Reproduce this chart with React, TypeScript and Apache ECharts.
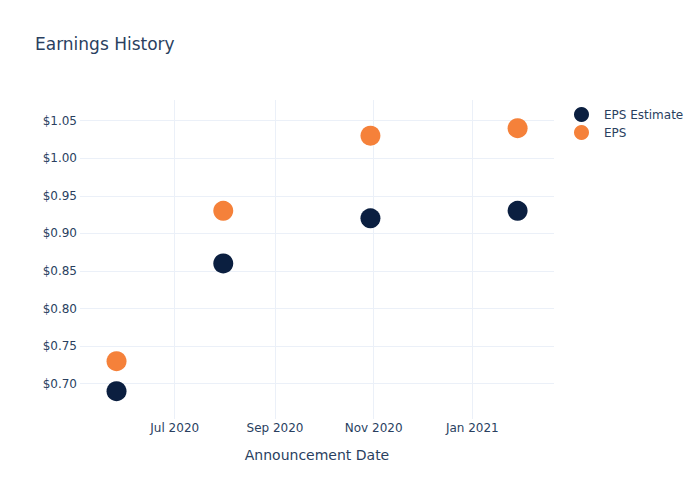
import React, { useEffect, useRef } from "react";
import * as echarts from "echarts";

const dates = ["2020-05-26", "2020-07-31", "2020-10-30", "2021-01-29"];
const epsEstimate = [0.69, 0.86, 0.92, 0.93];
const eps = [0.73, 0.93, 1.03, 1.04];
const xTicks = ["2020-07-01", "2020-09-01", "2020-11-01", "2021-01-01"];
const yTicks = [0.7, 0.75, 0.8, 0.85, 0.9, 0.95, 1.0, 1.05];
const monthNames = ["Jan", "Feb", "Mar", "Apr", "May", "Jun", "Jul", "Aug", "Sep", "Oct", "Nov", "Dec"];

const toTs = (s: string) => {
  const [y, m, d] = s.split("-").map(Number);
  return Date.UTC(y, m - 1, d);
};

const FONT = "DejaVu Sans";
const TXT = "#2a3f5f";
const GRID = "#ebf0f8";

export default function App() {
  const ref = useRef<HTMLDivElement>(null);
  useEffect(() => {
    if (!ref.current) return;
    const chart = echarts.init(ref.current, undefined, { renderer: "svg" });
    chart.setOption({
      animation: false,
      backgroundColor: "#ffffff",
      textStyle: { fontFamily: FONT },
      title: {
        text: "Earnings History",
        left: 35,
        top: 35,
        padding: 0,
        textStyle: { fontFamily: FONT, fontSize: 17, fontWeight: "normal", color: TXT },
      },
      legend: {
        orient: "vertical",
        left: 574,
        top: 107,
        itemWidth: 15,
        itemHeight: 15,
        itemGap: 3,
        padding: 0,
        icon: "circle",
        textStyle: { fontFamily: FONT, fontSize: 12, color: TXT, padding: [0, 0, 0, 10] },
        data: ["EPS Estimate", "EPS"],
      },
      grid: { left: 80, right: 146, top: 100, bottom: 81 },
      xAxis: {
        type: "value",
        min: toTs("2020-05-03") + 10 * 3600000,
        max: toTs("2021-02-20") + 12 * 3600000,
        name: "Announcement Date",
        nameLocation: "middle",
        nameGap: 29,
        nameTextStyle: { fontFamily: FONT, fontSize: 14, color: TXT },
        axisLine: { show: false },
        axisTick: { show: false, customValues: xTicks.map(toTs) },
        axisLabel: {
          customValues: xTicks.map(toTs),
          margin: 3,
          fontFamily: FONT,
          fontSize: 12,
          color: TXT,
          hideOverlap: false,
          formatter: (v: number) => {
            const d = new Date(v);
            return monthNames[d.getUTCMonth()] + " " + d.getUTCFullYear();
          },
        },
        splitLine: { show: true, lineStyle: { color: GRID, width: 1 } },
      },
      yAxis: {
        type: "value",
        min: 0.653,
        max: 1.0775,
        axisLine: { show: false },
        axisTick: { show: false, customValues: yTicks },
        axisLabel: {
          customValues: yTicks,
          margin: 3,
          fontFamily: FONT,
          fontSize: 12,
          color: TXT,
          formatter: (v: number) => "$" + v.toFixed(2),
        },
        splitLine: { show: true, lineStyle: { color: GRID, width: 1 } },
      },
      series: [
        {
          name: "EPS Estimate",
          type: "scatter",
          symbol: "circle",
          symbolSize: 20,
          itemStyle: { color: "#0b1f40", opacity: 1 },
          data: dates.map((d, i) => [toTs(d), epsEstimate[i]]),
        },
        {
          name: "EPS",
          type: "scatter",
          symbol: "circle",
          symbolSize: 20,
          itemStyle: { color: "#f5813a", opacity: 1 },
          data: dates.map((d, i) => [toTs(d), eps[i]]),
        },
      ],
    });
    return () => chart.dispose();
  }, []);
  return <div ref={ref} style={{ width: 700, height: 500, position: "absolute", left: 0, top: 0 }} />;
}
